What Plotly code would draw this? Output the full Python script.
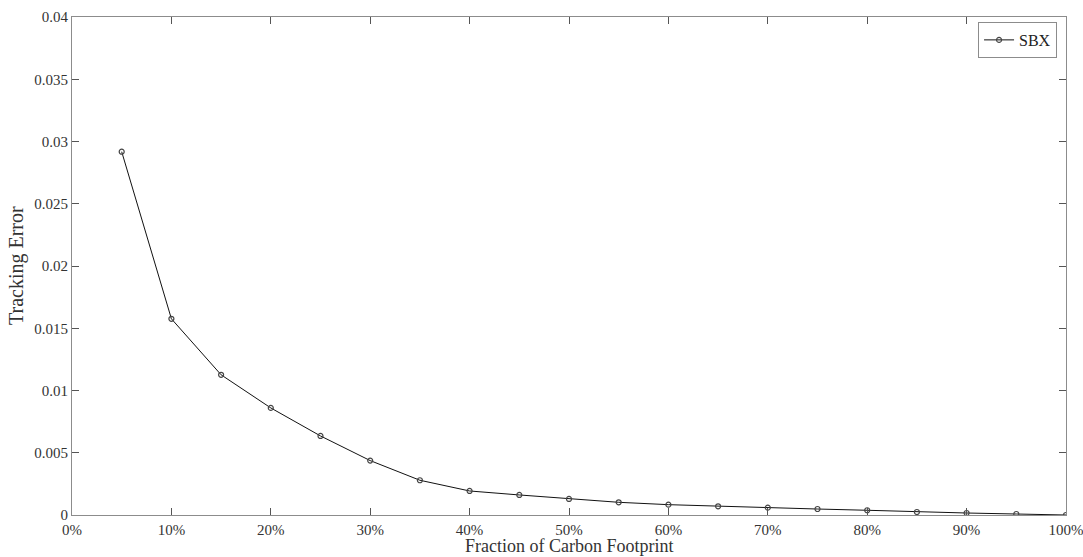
import plotly.graph_objects as go

# Fraction of carbon footprint retained (x) and resulting tracking error (y)
fraction = [0.05, 0.10, 0.15, 0.20, 0.25, 0.30, 0.35, 0.40, 0.45, 0.50,
            0.55, 0.60, 0.65, 0.70, 0.75, 0.80, 0.85, 0.90, 0.95, 1.00]
tracking_error = [0.02918, 0.01576, 0.01126, 0.00860, 0.00635, 0.00437, 0.00279,
                  0.00193, 0.00161, 0.00129, 0.00102, 0.00083, 0.00070, 0.00059,
                  0.00048, 0.00038, 0.00024, 0.00016, 0.00008, 0.00000]
series_name = "SBX"
x_title = "Fraction of Carbon Footprint"
y_title = "Tracking Error"

x_ticks = [i / 10 for i in range(11)]
y_ticks = [i * 0.005 for i in range(9)]
y_ticklabels = ["0", "0.005", "0.01", "0.015", "0.02", "0.025", "0.03", "0.035", "0.04"]

FONT = "Liberation Serif"
AXIS_GREY = "#8c8c8c"
TEXT = "#333333"

fig = go.Figure()
fig.add_trace(go.Scatter(
    x=fraction, y=tracking_error, name=series_name,
    mode="lines+markers",
    line=dict(color="#111111", width=1),
    marker=dict(symbol="circle-open", size=5, color="#444444", line=dict(width=1.2)),
))

fig.update_layout(
    width=1083, height=557,
    margin=dict(l=72, r=17, t=17, b=42),
    paper_bgcolor="white", plot_bgcolor="white",
    font=dict(family=FONT, size=15, color=TEXT),
    showlegend=True,
    legend=dict(
        x=0.991, y=0.99, xanchor="right", yanchor="top",
        bordercolor=AXIS_GREY, borderwidth=1, bgcolor="white",
        font=dict(family=FONT, size=16, color="#222222"),
        itemwidth=30, tracegroupgap=0,
    ),
)

fig.update_xaxes(
    range=[0, 1], tickvals=x_ticks, tickformat=".0%",
    showgrid=False, zeroline=False, automargin=False,
    showline=True, linecolor=AXIS_GREY, linewidth=1, mirror="ticks",
    ticks="inside", ticklen=7, tickcolor="#555555", tickwidth=1,
    ticklabeloverflow="allow", ticklabelstandoff=1,
    tickfont=dict(family=FONT, size=15, color=TEXT),
)
fig.update_yaxes(
    range=[0, 0.04], tickvals=y_ticks, ticktext=y_ticklabels,
    showgrid=False, zeroline=False, automargin=False,
    showline=True, linecolor=AXIS_GREY, linewidth=1, mirror="ticks",
    ticks="inside", ticklen=7, tickcolor="#555555", tickwidth=1,
    tickfont=dict(family=FONT, size=15, color=TEXT),
)

# Axis titles placed as annotations relative to the plot frame
fig.add_annotation(
    text=x_title, xref="paper", yref="paper", x=0.5, y=0,
    xanchor="center", yanchor="middle", yshift=-31, showarrow=False,
    font=dict(family=FONT, size=18, color=TEXT),
)
fig.add_annotation(
    text=y_title, xref="paper", yref="paper", x=0, y=0.5,
    xanchor="center", yanchor="middle", xshift=-56, textangle=-90, showarrow=False,
    font=dict(family=FONT, size=20, color=TEXT),
)

fig.write_html("out.html")
